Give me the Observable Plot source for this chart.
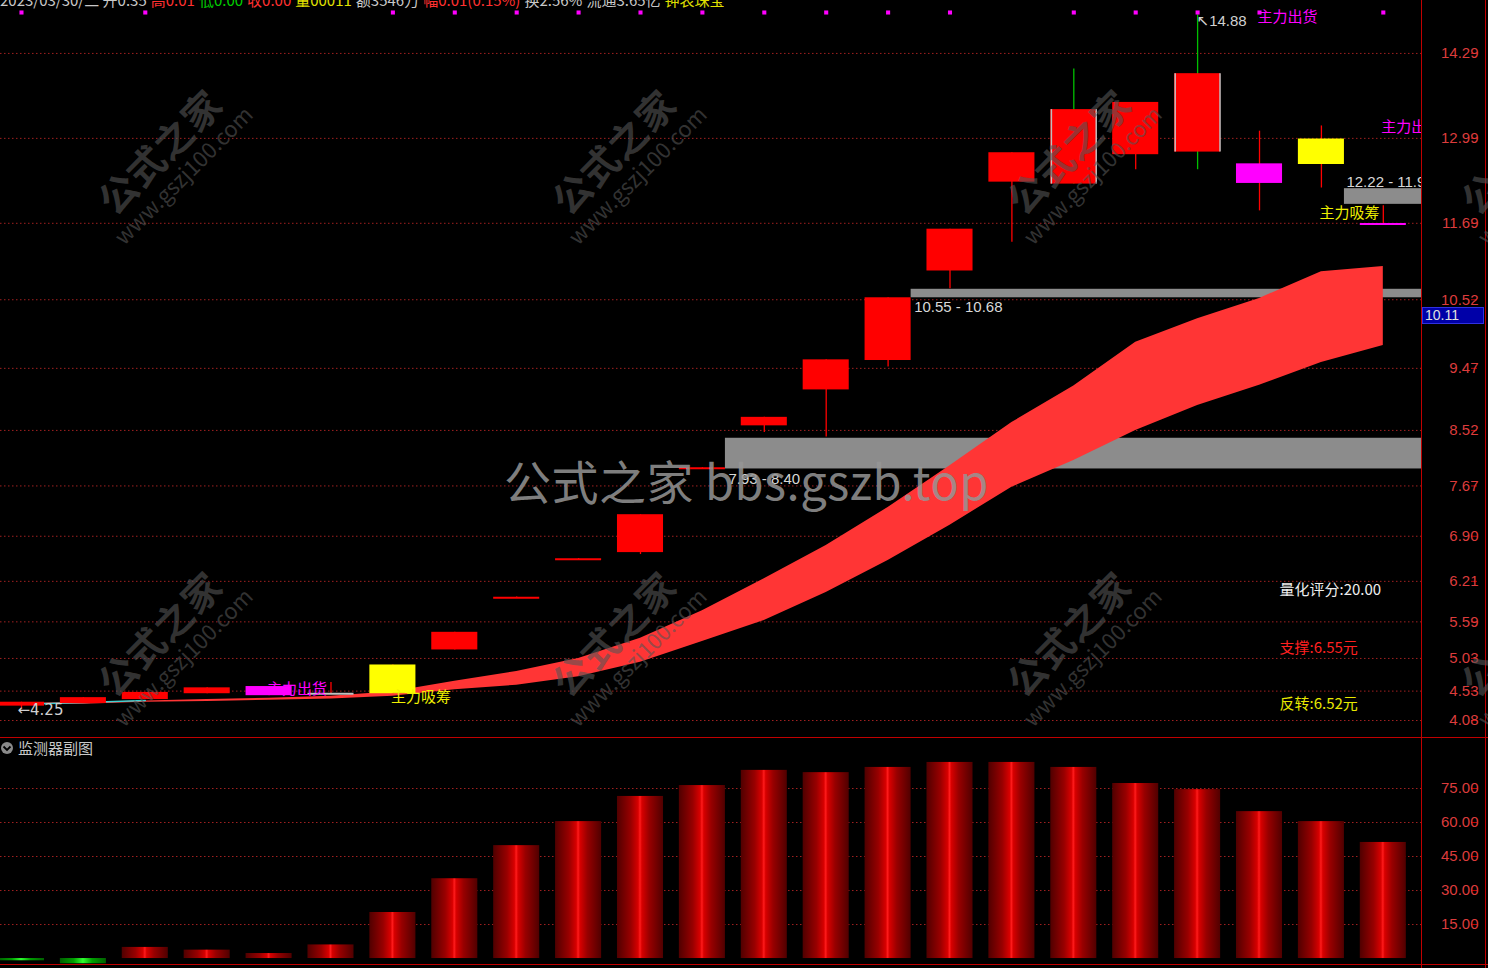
<!DOCTYPE html>
<html><head><meta charset="utf-8"><title>监测器</title>
<script src="https://cdn.jsdelivr.net/npm/d3@7"></script>
<script src="https://cdn.jsdelivr.net/npm/@observablehq/plot@0.6"></script>
<style>
html,body{margin:0;padding:0;background:#000;}
#wrap{position:relative;width:1488px;height:968px;overflow:hidden;background:#000;}
#wrap svg{position:absolute;left:0;display:block}
.ln{position:absolute;background:#c00000}
#header{position:absolute;left:0;top:-8px;white-space:nowrap;font:15px "Noto Sans CJK SC",sans-serif;line-height:15px}
#header span{margin-right:4px}
.wm{position:absolute;transform:translate(-50%,-50%) rotate(-45deg);text-align:center;color:rgba(85,85,85,0.6);font-family:"Noto Sans CJK SC",sans-serif;white-space:nowrap;pointer-events:none}
.wm .a{font-size:38px;font-weight:700;line-height:40px;letter-spacing:1px}
.wm .b{font-size:22px;line-height:26px}
#bigwm{position:absolute;left:504px;top:457px;font:47px "Noto Sans CJK SC",sans-serif;line-height:46px;color:rgba(150,150,150,0.85);white-space:nowrap;letter-spacing:0.5px}
#subtitle{position:absolute;left:18px;top:740px;font:15px "Noto Sans CJK SC",sans-serif;line-height:16px;color:#c8c8c8}
#lastbox{position:absolute;left:1422px;width:62px;height:17px;background:#0000a8;border:1px solid #3030e0;box-sizing:border-box;color:#e0e0e0;font:14px "Liberation Sans",sans-serif;line-height:15px;padding-left:2px}
</style></head>
<body><div id="wrap"></div>
<script>
// ---------- data ----------
const opens  = [4.30,4.34,4.40,4.49,4.60,4.49,4.49,5.16,5.95,6.54,6.65,7.93,8.59,9.14,9.59,10.96,12.32,12.29,12.74,12.78,12.60,12.59,11.68];
const closes = [4.36,4.43,4.51,4.58,4.46,4.49,4.93,5.43,5.97,6.56,7.23,7.95,8.72,9.60,10.55,11.60,12.77,13.43,13.54,13.98,12.30,12.98,11.68];
const highs  = [4.36,4.43,4.51,4.58,4.60,4.66,4.93,5.43,5.97,6.56,7.23,7.95,8.72,9.60,10.55,11.60,12.77,14.05,13.54,14.88,13.10,13.18,11.96];
const lows   = [4.25,4.34,4.40,4.49,4.46,4.49,4.49,5.16,5.95,6.54,6.62,7.93,8.49,8.42,9.49,10.69,11.40,12.29,12.51,12.51,11.88,12.23,11.68];
const signals= ["","","","","out","","in","","","","","","","","","","","","","","out","in","out"];
const greenWick = [17, 19];
const edgeCandles = [17, 19];
const bandTop = [4.34,4.36,4.38,4.40,4.42,4.45,4.52,4.68,4.83,5.03,5.34,5.76,6.25,6.76,7.34,7.98,8.64,9.20,9.87,10.23,10.54,10.95,11.03];
const bandBot = [4.32,4.33,4.36,4.37,4.39,4.41,4.45,4.55,4.62,4.75,4.97,5.29,5.61,6.04,6.53,7.07,7.65,8.06,8.52,8.90,9.21,9.56,9.82];
const cyanLine = [4.33,4.355,4.385];
const dotIdx = [0,2,6,7,8,9,10,11,12,13,14,15,17,18,19,20,22];
const outLabelIdx = [4,20,22], outLabelY = [4.555,14.84,13.16];
const inLabelIdx = [6,21], inLabelY = [4.43,11.84];
const zoneFrom = [14,11,21];
const zoneLo = [10.55,7.93,11.98];
const zoneHi = [10.68,8.40,12.22];
const zoneText = ["10.55 - 10.68","7.93 - 8.40","12.22 - 11.98"];
const score = 20.00, support = 6.55, reversal = 6.52;
const lastPrice = 10.11;
const yTicks = [4.08,4.53,5.03,5.59,6.21,6.90,7.67,8.52,9.47,10.52,11.69,12.99,14.29];
const scores = [-1,-2.3,4.9,3.7,2.2,6.0,20.3,35.2,49.8,60.4,71.5,76.3,83.0,82.0,84.3,86.5,86.5,84.3,77.2,74.5,64.8,60.4,51.2];
const subTicks = [15,30,45,60,75];
const headerText = [["2023/03/30/二 开0.35","#c8c8c8"],["高0.01","#ff3030"],["低0.00","#00d000"],["收0.00","#ff3030"],["量00011","#e0e000"],["额3546万","#c8c8c8"],["幅0.01(0.15%)","#ff3030"],["换2.56%","#c8c8c8"],["流通3.65亿","#c8c8c8"],["钟表珠宝","#e0e000"]];

// ---------- setup ----------
const W = 1488, MR = 67;
const XD = [-0.339, 22.617];
const HALF = 0.372;
const N = opens.length;
const candles = d3.range(N).map(i => ({i, o: opens[i], c: closes[i], h: highs[i], l: lows[i], s: signals[i]}));
const band = d3.range(N).map(i => ({i, top: bandTop[i], bot: bandBot[i]}));
const zones = zoneFrom.map((f, k) => ({from: f, lo: zoneLo[k], hi: zoneHi[k], text: zoneText[k], k}));
const isDoji = d => Math.abs(d.c - d.o) < 0.03;
const bodyFill = d => d.s === "out" ? "#ff00ff" : d.s === "in" ? "#ffff00" : d.c > d.o ? "#ff0000" : d.c < d.o ? "#00ffff" : "#c0c0c0";
const CJK = "Noto Sans CJK SC, sans-serif";
const LAT = "Liberation Sans, DejaVu Sans, Noto Sans CJK SC, sans-serif";
const iLow = d3.minIndex(lows), iHigh = d3.maxIndex(highs);

const main = Plot.plot({
  width: W, height: 737, marginLeft: 0, marginRight: MR, marginTop: 0, marginBottom: 0,
  style: {background: "#000", fontFamily: LAT, fontSize: "14px"},
  x: {domain: XD, axis: null},
  y: {domain: [3.82, 15.10], axis: null},
  color: {type: "identity"},
  marks: [
    Plot.ruleY(yTicks, {stroke: "#a02020", strokeDasharray: "1.5,2.5"}),
    Plot.axisY(yTicks, {anchor: "right", tickSize: 6, tickPadding: 2, textAnchor: "end", dx: 49,
      tickFormat: d => d.toFixed(2), fill: "#dc3c3c", stroke: "#c00000", fontSize: 15, label: null}),
    Plot.rect(zones, {x1: d => d.from + HALF, x2: () => XD[1], y1: "lo", y2: "hi", fill: "#8c8c8c"}),
    Plot.areaY(band, {x: "i", y1: "bot", y2: "top", fill: "#ff3535"}),
    Plot.line(cyanLine, {x: (d, i) => i, y: d => d, stroke: "#40d0d0", strokeWidth: 1.5}),
    Plot.ruleX(candles.filter(d => d.h > d.l), {x: "i", y1: "l", y2: "h",
      stroke: d => greenWick.includes(d.i) ? "#00c000" : "#ff0000", strokeWidth: 1.3}),
    Plot.rect(candles.filter(d => !isDoji(d)), {x1: d => d.i - HALF, x2: d => d.i + HALF, y1: "o", y2: "c", fill: bodyFill}),
    Plot.ruleY(candles.filter(isDoji), {x1: d => d.i - HALF, x2: d => d.i + HALF, y: d => (d.o + d.c) / 2, stroke: bodyFill, strokeWidth: 2}),
    Plot.ruleX(candles.filter(d => edgeCandles.includes(d.i)), {x: d => d.i - HALF + 0.01, y1: "o", y2: "c", stroke: "#c0c0c0", strokeWidth: 1.5}),
    Plot.ruleX(candles.filter(d => edgeCandles.includes(d.i)), {x: d => d.i + HALF - 0.01, y1: "o", y2: "c", stroke: "#c0c0c0", strokeWidth: 1.5}),
    Plot.dot(dotIdx, {x: d => d, frameAnchor: "top", dy: 12, symbol: "square", r: 2.3, fill: "#ff00ff"}),
    Plot.text([iLow], {x: d => d, y: d => lows[d], text: d => "←" + lows[d].toFixed(2), textAnchor: "start", dx: -4, dy: 1, fill: "#d0d0d0", fontSize: 15, fontFamily: "DejaVu Sans, sans-serif"}),
    Plot.text([iHigh], {x: d => d, y: d => highs[d], text: d => "↖" + highs[d].toFixed(2), textAnchor: "start", dx: -1, dy: 6, fill: "#d0d0d0", fontSize: 15, fontFamily: LAT}),
    Plot.text(outLabelIdx, {x: d => d, y: (d, k) => outLabelY[k], text: () => "主力出货", textAnchor: "start", dx: -2, fill: "#ff00ff", fontSize: 15, fontFamily: CJK, clip: true}),
    Plot.text(inLabelIdx, {x: d => d, y: (d, k) => inLabelY[k], text: () => "主力吸筹", textAnchor: "start", dx: -2, fill: "#f0f000", fontSize: 15, fontFamily: CJK, clip: true}),
    Plot.text(zones.filter(d => d.k < 2), {x: d => d.from + HALF, y: "lo", text: "text", textAnchor: "start", lineAnchor: "top", dx: 3, dy: 4, fill: "#d8d8d8", fontSize: 15, fontFamily: LAT}),
    Plot.text(zones.filter(d => d.k === 2), {x: d => d.from + HALF, y: "hi", text: "text", textAnchor: "start", lineAnchor: "bottom", dx: 2, dy: -2, fill: "#d8d8d8", fontSize: 15, fontFamily: LAT, clip: true}),
    Plot.text(["量化评分:" + score.toFixed(2)], {frameAnchor: "bottom-right", textAnchor: "start", dx: -142, dy: -143, fill: "#eeeeee", fontSize: 15, fontFamily: CJK}),
    Plot.text(["支撑:" + support.toFixed(2) + "元"], {frameAnchor: "bottom-right", textAnchor: "start", dx: -142, dy: -85, fill: "#ff2020", fontSize: 15, fontFamily: CJK}),
    Plot.text(["反转:" + reversal.toFixed(2) + "元"], {frameAnchor: "bottom-right", textAnchor: "start", dx: -142, dy: -29, fill: "#e8e800", fontSize: 15, fontFamily: CJK})
  ]
});
main.style.top = "0px";

const sub = Plot.plot({
  width: W, height: 231, marginLeft: 0, marginRight: MR, marginTop: 0, marginBottom: 0,
  style: {background: "#000", fontFamily: LAT, fontSize: "14px"},
  x: {domain: XD, axis: null},
  y: {domain: [-4.4, 97.5], axis: null},
  marks: [
    Plot.ruleY(subTicks, {stroke: "#a02020", strokeDasharray: "1.5,2.5"}),
    Plot.axisY(subTicks, {anchor: "right", tickSize: 6, tickPadding: 2, textAnchor: "end", dx: 49,
      tickFormat: d => d.toFixed(2), fill: "#dc3c3c", stroke: "#c00000", fontSize: 15, label: null}),
    Plot.rect(scores.map((v, i) => ({i, v})).filter(d => d.v >= 0), {x1: d => d.i - HALF, x2: d => d.i + HALF, y1: 0, y2: "v", fill: "url(#gradRed)"}),
    Plot.rect(scores.map((v, i) => ({i, v})).filter(d => d.v < 0), {x1: d => d.i - HALF, x2: d => d.i + HALF, y1: 0, y2: "v", fill: "url(#gradGreen)"})
  ]
});
sub.style.top = "737px";
const defs = d3.select(sub).insert("defs", ":first-child");
function grad(id, stops) {
  const g = defs.append("linearGradient").attr("id", id).attr("x1", 0).attr("x2", 1).attr("y1", 0).attr("y2", 0);
  stops.forEach(([o, c]) => g.append("stop").attr("offset", o).attr("stop-color", c));
}
grad("gradRed", [[0, "#500000"], [0.3, "#980000"], [0.46, "#d80000"], [0.5, "#ff1c1c"], [0.54, "#d80000"], [0.7, "#980000"], [1, "#500000"]]);
grad("gradGreen", [[0, "#006000"], [0.3, "#00a000"], [0.5, "#30ff30"], [0.7, "#00a000"], [1, "#006000"]]);

const wrap = document.getElementById("wrap");
wrap.appendChild(main);
wrap.appendChild(sub);

// panel lines
[[0,737,W,1],[0,964,W,1],[1421,0,1,968],[1485,0,1,968]].forEach(([l,t,w,h]) => {
  const d = document.createElement("div"); d.className = "ln";
  Object.assign(d.style, {left: l + "px", top: t + "px", width: w + "px", height: h + "px"});
  wrap.appendChild(d);
});

// header
const hd = document.createElement("div"); hd.id = "header";
headerText.forEach(([t, c]) => { const s = document.createElement("span"); s.textContent = t; s.style.color = c; hd.appendChild(s); });
wrap.appendChild(hd);

// sub title
const st = document.createElement("div"); st.id = "subtitle"; st.textContent = "监测器副图"; wrap.appendChild(st);
wrap.insertAdjacentHTML("beforeend", '<svg width="14" height="14" style="position:absolute;left:0;top:741px"><circle cx="7" cy="7" r="6" fill="#8a8a8a"/><polyline points="3.5,5.5 7,9 10.5,5.5" fill="none" stroke="#000" stroke-width="1.8"/></svg>');

// last price box
const lb = document.createElement("div"); lb.id = "lastbox"; lb.textContent = lastPrice.toFixed(2);
lb.style.top = (main.scale("y").apply(lastPrice) - 19) + "px";
wrap.appendChild(lb);

// watermarks
[[168,160],[622,160],[1077,160],[1531,160],[168,642],[622,642],[1077,642],[1531,642]].forEach(([x, y]) => {
  const d = document.createElement("div"); d.className = "wm";
  d.style.left = x + "px"; d.style.top = y + "px";
  d.innerHTML = '<div class="a">公式之家</div><div class="b">www.gszj100.com</div>';
  wrap.appendChild(d);
});
const bw = document.createElement("div"); bw.id = "bigwm"; bw.textContent = "公式之家 bbs.gszb.top"; wrap.appendChild(bw);
</script>
</body></html>
